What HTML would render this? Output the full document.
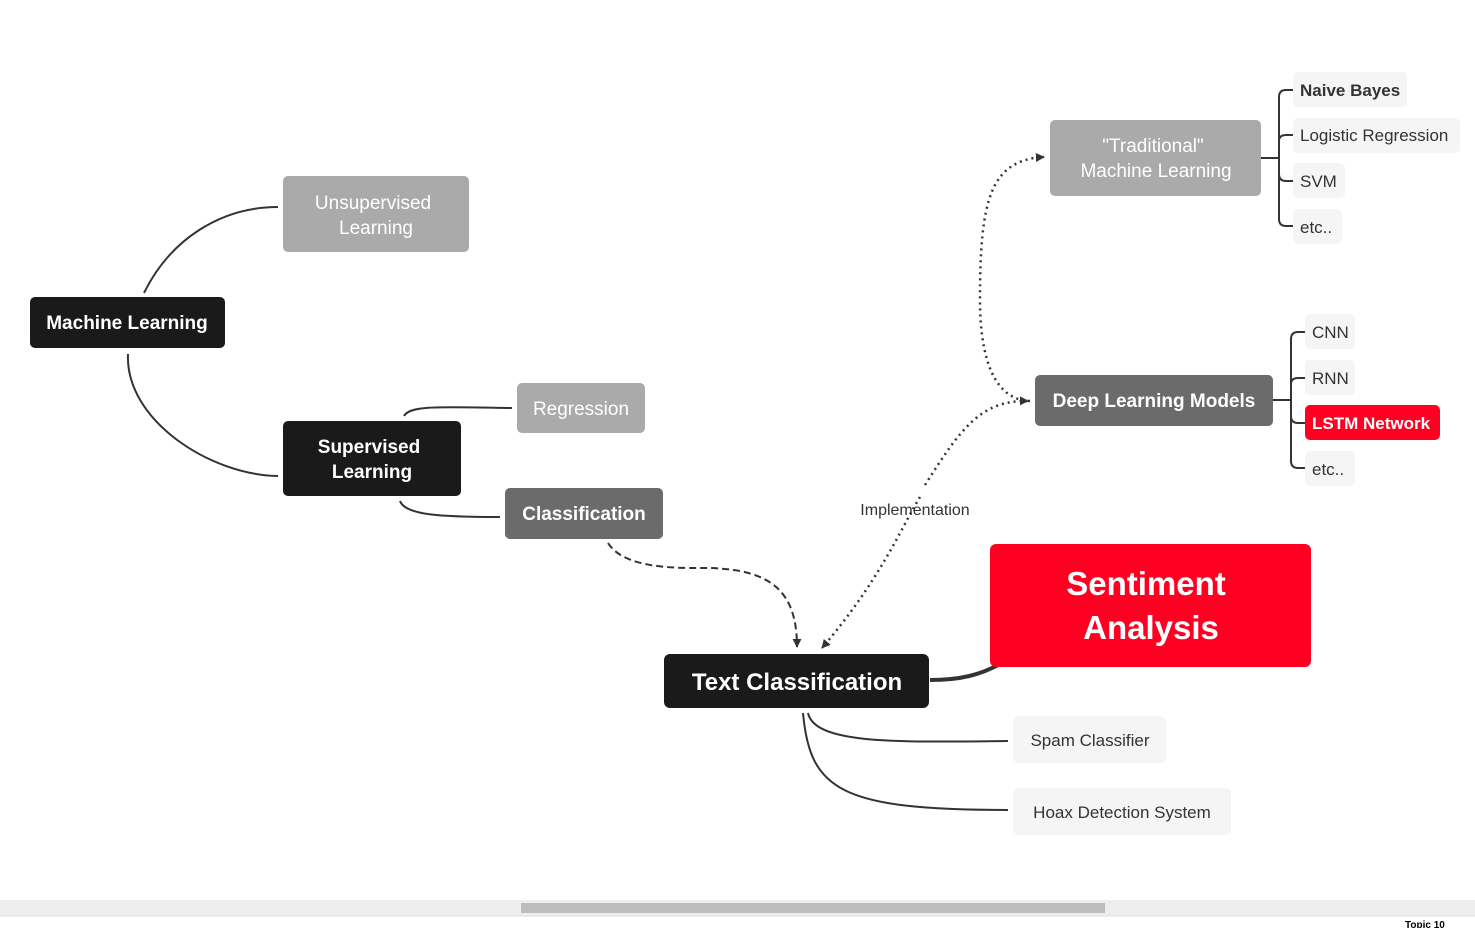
<!DOCTYPE html>
<html><head><meta charset="utf-8"><style>
html,body{margin:0;padding:0;background:#fff;width:1475px;height:928px;overflow:hidden}
svg{display:block}
text{font-family:"Liberation Sans",sans-serif}
</style></head><body>
<svg width="1475" height="928" viewBox="0 0 1475 928" xmlns="http://www.w3.org/2000/svg">
<defs>
<marker id="ah" viewBox="0 0 10 10" refX="9" refY="5" markerWidth="9" markerHeight="9" markerUnits="userSpaceOnUse" orient="auto"><path d="M0,0 L10,5 L0,10 z" fill="#333"/></marker>
</defs>
<g fill="none" stroke="#333" stroke-width="2">
<path d="M144,293 C170,240 220,207 278,207"/>
<path d="M128,354 C125,420 210,475 278,476"/>
<path d="M404,416 C410,405 440,407 512,408"/>
<path d="M400,501 C405,515 440,517 500,517"/>
<path d="M808,713 C815,745 900,742 1008,741"/>
<path d="M803,713 C810,790 840,810 1008,810"/>
<path d="M930,680 C960,680 980,675 1000,664" stroke-width="4"/>
<path d="M608,543 C625,570 680,568 710,568 C770,570 797,590 797,647" stroke-dasharray="7,4" marker-end="url(#ah)"/>
<path d="M920,497 C900,530 880,580 822,648" stroke-dasharray="2,4" stroke-width="2.5" marker-end="url(#ah)"/>
<path d="M925,485 C960,430 980,400 1028,401" stroke-dasharray="2,4" stroke-width="2.5" marker-end="url(#ah)"/>
<path d="M1030,401 C995,400 980,360 980,300 C980,200 990,160 1044,157" stroke-dasharray="2,4" stroke-width="2.5" marker-end="url(#ah)"/>
<path d="M1261,158 L1279,158"/>
<path d="M1294,90 L1286,90 Q1279,90 1279,97 L1279,219 Q1279,226 1286,226 L1294,226"/>
<path d="M1279,141 Q1279,135 1286,135 L1294,135"/>
<path d="M1279,174 Q1279,181 1286,181 L1294,181"/>
<path d="M1273,400 L1291,400"/>
<path d="M1306,332 L1298,332 Q1291,332 1291,339 L1291,461 Q1291,468 1298,468 L1306,468"/>
<path d="M1291,384 Q1291,378 1298,378 L1306,378"/>
<path d="M1291,416 Q1291,423 1298,423 L1306,423"/>
</g>
<rect x="30" y="297" width="195" height="51" rx="5" fill="#1a1a1a"/>
<text x="127" y="329" fill="#fff" font-size="19" font-weight="bold" text-anchor="middle">Machine Learning</text>
<rect x="283" y="176" width="186" height="76" rx="5" fill="#aaa"/>
<text x="373" y="209" fill="#fff" font-size="19" text-anchor="middle">Unsupervised</text>
<text x="376" y="234" fill="#fff" font-size="19" text-anchor="middle">Learning</text>
<rect x="283" y="421" width="178" height="75" rx="5" fill="#1a1a1a"/>
<text x="369" y="453" fill="#fff" font-size="19" font-weight="bold" text-anchor="middle">Supervised</text>
<text x="372" y="478" fill="#fff" font-size="19" font-weight="bold" text-anchor="middle">Learning</text>
<rect x="517" y="383" width="128" height="50" rx="5" fill="#aaa"/>
<text x="581" y="415" fill="#fff" font-size="19" text-anchor="middle">Regression</text>
<rect x="505" y="488" width="158" height="51" rx="5" fill="#6b6b6b"/>
<text x="584" y="520" fill="#fff" font-size="19" font-weight="bold" text-anchor="middle">Classification</text>
<text x="915" y="515" fill="#333" font-size="16" text-anchor="middle">Implementation</text>
<rect x="664" y="654" width="265" height="54" rx="6" fill="#1a1a1a"/>
<text x="797" y="690" fill="#fff" font-size="24" font-weight="bold" text-anchor="middle">Text Classification</text>
<rect x="990" y="544" width="321" height="123" rx="6" fill="#ff0022"/>
<text x="1146" y="595" fill="#fff" font-size="33" font-weight="bold" text-anchor="middle">Sentiment</text>
<text x="1151" y="639" fill="#fff" font-size="33" font-weight="bold" text-anchor="middle">Analysis</text>
<rect x="1013" y="716" width="153" height="47" rx="6" fill="#f5f5f5"/>
<text x="1090" y="746" fill="#333" font-size="17" text-anchor="middle">Spam Classifier</text>
<rect x="1013" y="788" width="218" height="47" rx="6" fill="#f5f5f5"/>
<text x="1122" y="818" fill="#333" font-size="17" text-anchor="middle">Hoax Detection System</text>
<rect x="1050" y="120" width="211" height="76" rx="5" fill="#aaa"/>
<text x="1153" y="152" fill="#fff" font-size="19" text-anchor="middle">"Traditional"</text>
<text x="1156" y="177" fill="#fff" font-size="19" text-anchor="middle">Machine Learning</text>
<rect x="1035" y="375" width="238" height="51" rx="5" fill="#6b6b6b"/>
<text x="1154" y="407" fill="#fff" font-size="19" font-weight="bold" text-anchor="middle">Deep Learning Models</text>
<g font-size="17" fill="#333">
<rect x="1293" y="72" width="114" height="35" rx="5" fill="#f5f5f5"/>
<text x="1300" y="96" font-weight="bold">Naive Bayes</text>
<rect x="1293" y="118" width="167" height="35" rx="5" fill="#f5f5f5"/>
<text x="1300" y="141">Logistic Regression</text>
<rect x="1293" y="163" width="52" height="35" rx="5" fill="#f5f5f5"/>
<text x="1300" y="187">SVM</text>
<rect x="1293" y="209" width="49" height="35" rx="5" fill="#f5f5f5"/>
<text x="1300" y="233">etc..</text>
<rect x="1305" y="314" width="50" height="35" rx="5" fill="#f5f5f5"/>
<text x="1312" y="338">CNN</text>
<rect x="1305" y="360" width="50" height="35" rx="5" fill="#f5f5f5"/>
<text x="1312" y="384">RNN</text>
<rect x="1305" y="405" width="135" height="35" rx="5" fill="#ff0022"/>
<text x="1312" y="429" fill="#fff" font-weight="bold">LSTM Network</text>
<rect x="1305" y="451" width="50" height="35" rx="5" fill="#f5f5f5"/>
<text x="1312" y="475">etc..</text>
</g>
<rect x="0" y="900" width="1475" height="16" fill="#eee"/>
<rect x="521" y="903" width="584" height="10" fill="#bdbdbd"/>
<line x1="0" y1="916" x2="1475" y2="916" stroke="#ddd"/>
<text x="1405" y="928" font-size="10" font-weight="bold" fill="#000">Topic 10</text>
</svg>
</body></html>
